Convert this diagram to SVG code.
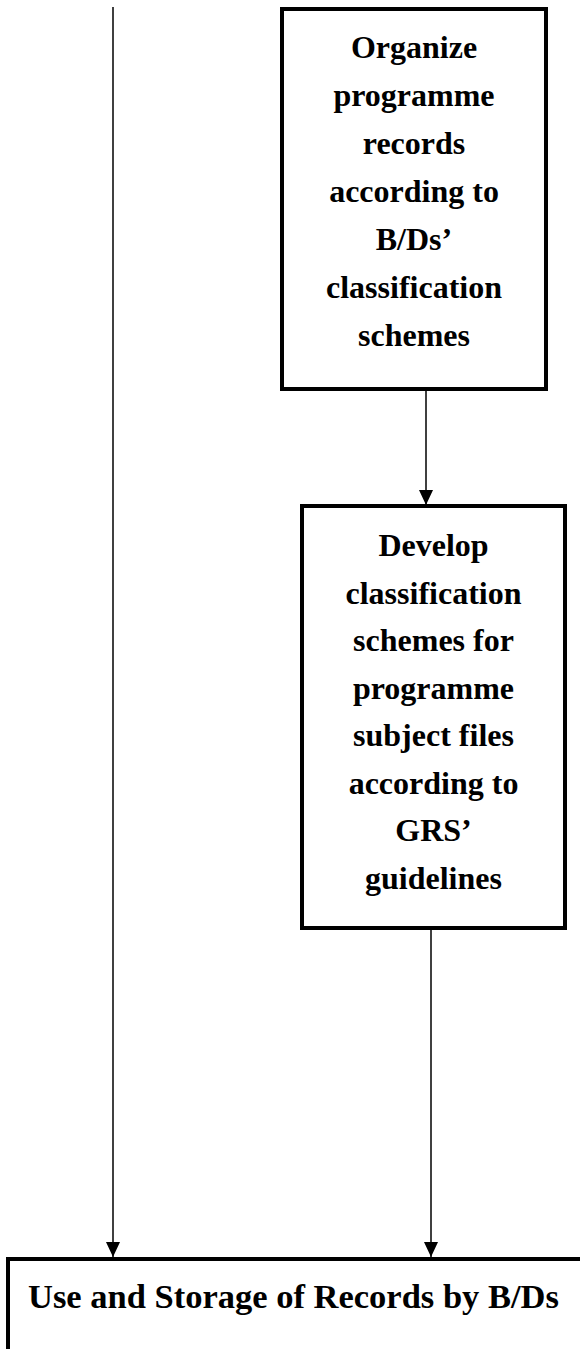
<svg xmlns="http://www.w3.org/2000/svg" width="580" height="1349" viewBox="0 0 580 1349">
<defs>
<style>
.box{fill:#fff;stroke:#000;stroke-width:4}
.t{font-family:"Liberation Serif","Times New Roman",serif;font-weight:bold;font-size:32px;fill:#000;text-anchor:middle}
.b{font-family:"Liberation Serif","Times New Roman",serif;font-weight:bold;font-size:34.5px;fill:#000}
.c{fill:none;stroke:#000;stroke-width:1.5}
</style>
<marker id="ah" viewBox="0 0 15 14" refX="15" refY="7" markerWidth="15" markerHeight="14" markerUnits="userSpaceOnUse" orient="auto">
<path d="M0,0 L15,7 L0,14 Z" fill="#000"/>
</marker>
</defs>
<rect width="580" height="1349" fill="#fff"/>
<g id="connectors">
<line class="c" x1="113" y1="7" x2="113" y2="1257" marker-end="url(#ah)"/>
<line class="c" x1="426" y1="391" x2="426" y2="505" marker-end="url(#ah)"/>
<line class="c" x1="431" y1="930" x2="431" y2="1257" marker-end="url(#ah)"/>
</g>
<g id="organize">
<rect class="box" x="282" y="9" width="264" height="380"/>
<text class="t" x="414" y="58">Organize</text>
<text class="t" x="414" y="106">programme</text>
<text class="t" x="414" y="154">records</text>
<text class="t" x="414" y="202">according to</text>
<text class="t" x="414" y="250">B/Ds’</text>
<text class="t" x="414" y="298">classification</text>
<text class="t" x="414" y="346">schemes</text>
</g>
<g id="develop">
<rect class="box" x="302" y="506" width="263" height="422"/>
<text class="t" x="433.5" y="556">Develop</text>
<text class="t" x="433.5" y="603.5">classification</text>
<text class="t" x="433.5" y="651">schemes for</text>
<text class="t" x="433.5" y="698.5">programme</text>
<text class="t" x="433.5" y="746">subject files</text>
<text class="t" x="433.5" y="793.5">according to</text>
<text class="t" x="433.5" y="841">GRS’</text>
<text class="t" x="433.5" y="888.5">guidelines</text>
</g>
<g id="use-storage">
<rect class="box" x="8" y="1259" width="610" height="120"/>
<text class="b" x="28" y="1308">Use and Storage of Records by B/Ds</text>
</g>
</svg>
